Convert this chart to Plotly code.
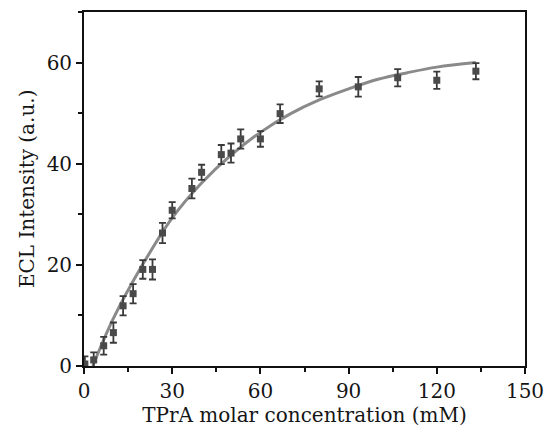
import plotly.graph_objects as go

conc = [0.3, 3.3, 6.7, 10.0, 13.3, 16.7, 20.0, 23.3, 26.7, 30.0, 36.7, 40.0,
        46.7, 50.0, 53.3, 60.0, 66.7, 80.0, 93.3, 106.7, 120.0, 133.3]
intensity = [0.4, 1.2, 4.0, 6.6, 11.9, 14.3, 19.1, 19.1, 26.3, 30.8, 35.1, 38.3,
             41.8, 42.1, 44.9, 44.9, 49.9, 54.8, 55.2, 57.0, 56.5, 58.3]
err = [1.5, 1.5, 1.75, 2.0, 1.9, 1.9, 1.85, 2.0, 2.0, 1.6, 1.95, 1.5,
       1.9, 1.9, 1.9, 1.55, 1.85, 1.5, 1.95, 1.7, 1.7, 1.6]

# Fitted curve, points
fit_x = [3, 10, 20, 30, 40, 50, 60, 70, 80, 90, 100, 110, 120, 133.3]
fit_y = [0.0, 9.4, 20.1, 29.3, 36.2, 41.7, 46.2, 49.8, 52.6, 54.8, 56.7, 58.0, 59.1, 60.0]

x_ticks = [0, 30, 60, 90, 120, 150]
y_ticks = [0, 20, 40, 60]

FONT = "DejaVu Serif"
TEXT = "#151515"

fig = go.Figure()
fig.add_trace(go.Scatter(
    x=fit_x, y=fit_y, mode="lines", line=dict(color="#8a8a8a", width=3, shape="spline"),
    showlegend=False, hoverinfo="skip"))
fig.add_trace(go.Scatter(
    x=conc, y=intensity, mode="markers",
    marker=dict(symbol="square", size=7, color="#4a4a4a"),
    error_y=dict(type="data", array=err, visible=True, color="#3a3a3a", thickness=1.8, width=3.5),
    showlegend=False))

fig.update_layout(
    width=550, height=440, autosize=False,
    margin=dict(l=84, r=25, t=12, b=74, autoexpand=False),
    paper_bgcolor="white", plot_bgcolor="white",
    font=dict(family=FONT, size=20, color=TEXT),
    xaxis=dict(
        range=[0, 150], tickvals=x_ticks, ticktext=[str(v) for v in x_ticks],
        ticks="outside", ticklen=6, tickwidth=1.5, tickcolor="#111",
        minor=dict(dtick=15, ticks="outside", ticklen=4, tickwidth=1.5, tickcolor="#111"),
        showline=True, linecolor="#111", linewidth=1.8, mirror=True,
        showgrid=False, zeroline=False, automargin=False,
        title=dict(text="TPrA molar concentration (mM)", font=dict(family=FONT, size=20, color=TEXT), standoff=5),
    ),
    yaxis=dict(
        range=[0, 70], tickvals=y_ticks, ticktext=[str(v) for v in y_ticks],
        ticks="outside", ticklen=6, tickwidth=1.5, tickcolor="#111",
        minor=dict(dtick=10, ticks="outside", ticklen=4, tickwidth=1.5, tickcolor="#111"),
        showline=True, linecolor="#111", linewidth=1.8, mirror=True,
        showgrid=False, zeroline=False, automargin=False,
    ),
    annotations=[dict(
        text="ECL Intensity (a.u.)", textangle=-90, xref="paper", yref="paper",
        x=-0.129, y=0.5, xanchor="center", yanchor="middle", showarrow=False,
        font=dict(family=FONT, size=20, color=TEXT))],
)

fig.write_html("out.html", config={"displayModeBar": False, "responsive": False},
               post_script="document.body.style.margin='0';")
